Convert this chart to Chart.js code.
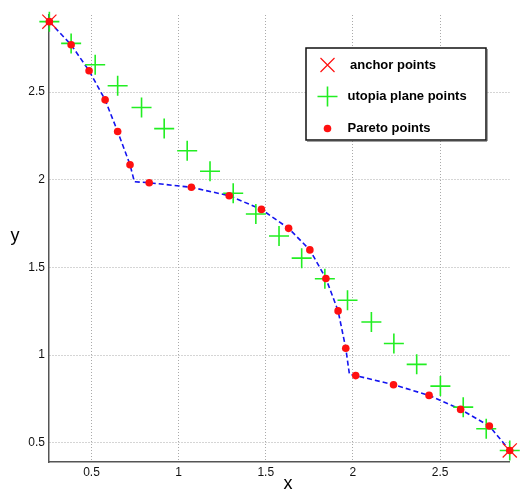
<!DOCTYPE html>
<html>
<head>
<meta charset="utf-8">
<script src="https://cdn.jsdelivr.net/npm/chart.js@4/dist/chart.umd.min.js"></script>
<style>
  html, body { margin: 0; padding: 0; background: #fff; }
  #wrap { width: 521px; height: 495px; }
</style>
</head>
<body>
<div id="wrap"><canvas id="chart" width="521" height="495"></canvas></div>
<script>
// pareto points (red dots)
const paretoX = [0.258, 0.383, 0.486, 0.578, 0.650, 0.721, 0.831, 1.073, 1.290, 1.475, 1.631, 1.753, 1.845, 1.915, 1.959, 2.016, 2.233, 2.437, 2.618, 2.783, 2.900]
const paretoY = [2.902, 2.770, 2.622, 2.456, 2.275, 2.086, 1.983, 1.957, 1.909, 1.831, 1.723, 1.600, 1.437, 1.252, 1.039, 0.883, 0.831, 0.770, 0.690, 0.595, 0.456]

// utopia plane points (green crosses)
const utopiaX = [0.258, 0.383, 0.521, 0.650, 0.787, 0.917, 1.049, 1.180, 1.313, 1.443, 1.576, 1.706, 1.839, 1.969, 2.106, 2.235, 2.366, 2.502, 2.633, 2.765, 2.900]
const utopiaY = [2.902, 2.778, 2.656, 2.536, 2.412, 2.292, 2.166, 2.049, 1.923, 1.805, 1.679, 1.553, 1.435, 1.313, 1.189, 1.066, 0.947, 0.823, 0.703, 0.580, 0.456]

// anchor points (red x)
const anchorX = [0.258, 2.900]
const anchorY = [2.902, 0.456]

// pareto front (blue dashed), with the two kinks
const frontX = [0.258, 0.383, 0.486, 0.578, 0.650, 0.721, 0.746, 0.831, 1.073, 1.290, 1.475, 1.631, 1.753, 1.845, 1.915, 1.959, 1.980, 2.016, 2.233, 2.437, 2.618, 2.783, 2.900]
const frontY = [2.902, 2.770, 2.622, 2.456, 2.275, 2.086, 1.989, 1.983, 1.957, 1.909, 1.831, 1.723, 1.600, 1.437, 1.252, 1.039, 0.890, 0.883, 0.831, 0.770, 0.690, 0.595, 0.456]

// ticks
const xTicks = [0.5, 1, 1.5, 2, 2.5]
const xTickLabels = ['0.5', '1', '1.5', '2', '2.5']
const yTicks = [0.5, 1, 1.5, 2, 2.5]
const yTickLabels = ['0.5', '1', '1.5', '2', '2.5']

const legendLabels = ['anchor points', 'utopia plane points', 'Pareto points']

const RED = '#ff1010'
const GREEN = '#22ee22'
const BLUE = '#1414f0'

const toPoints = (xs, ys) => xs.map((x, i) => ({ x, y: ys[i] }))

// legend box + axis titles, drawn like the matlab figure
const extras = {
  id: 'extras',
  afterDraw (chart) {
    const ctx = chart.ctx
    ctx.save()

    // axis titles
    ctx.fillStyle = '#000'
    ctx.font = '18px "Liberation Sans", Arial, sans-serif'
    ctx.textAlign = 'center'
    ctx.textBaseline = 'middle'
    ctx.fillText('x', 288, 484)
    ctx.fillText('y', 15, 236)

    // legend box
    const bx = 306
    const by = 48
    const bw = 180
    const bh = 92
    ctx.fillStyle = '#fff'
    ctx.fillRect(bx, by, bw, bh)
    ctx.strokeStyle = '#111'
    ctx.lineWidth = 1.5
    ctx.strokeRect(bx, by, bw, bh)
    ctx.lineWidth = 1
    ctx.strokeStyle = '#444'
    ctx.beginPath()
    ctx.moveTo(bx + 1, by + bh + 1)
    ctx.lineTo(bx + bw + 1, by + bh + 1)
    ctx.lineTo(bx + bw + 1, by + 1)
    ctx.stroke()

    const mx = 327.5
    const rows = [65, 96.5, 128.5]

    // anchor marker
    ctx.strokeStyle = RED
    ctx.lineWidth = 1.2
    ctx.beginPath()
    ctx.moveTo(mx - 7, rows[0] - 7)
    ctx.lineTo(mx + 7, rows[0] + 7)
    ctx.moveTo(mx - 7, rows[0] + 7)
    ctx.lineTo(mx + 7, rows[0] - 7)
    ctx.stroke()

    // utopia marker
    ctx.strokeStyle = GREEN
    ctx.lineWidth = 1.6
    ctx.beginPath()
    ctx.moveTo(mx - 10, rows[1])
    ctx.lineTo(mx + 10, rows[1])
    ctx.moveTo(mx, rows[1] - 10)
    ctx.lineTo(mx, rows[1] + 10)
    ctx.stroke()

    // pareto marker
    ctx.fillStyle = RED
    ctx.beginPath()
    ctx.arc(mx, rows[2], 3.8, 0, Math.PI * 2)
    ctx.fill()

    ctx.fillStyle = '#000'
    ctx.font = 'bold 13px "Liberation Sans", Arial, sans-serif'
    ctx.textAlign = 'left'
    ctx.fillText(legendLabels[0], 350, rows[0])
    ctx.fillText(legendLabels[1], 347.5, rows[1])
    ctx.fillText(legendLabels[2], 347.5, rows[2])

    ctx.restore()
  }
}

const gridOpts = { color: '#aaaaaa', lineWidth: 1, drawTicks: false, borderDash: [1, 2] }
const borderOpts = { display: true, color: '#555555', width: 1.5, dash: [1, 2] }

new Chart(document.getElementById('chart'), {
  type: 'scatter',
  data: {
    datasets: [
      {
        label: legendLabels[0],
        data: toPoints(anchorX, anchorY),
        pointStyle: 'crossRot',
        pointRadius: 10,
        pointBorderWidth: 1.2,
        borderColor: RED,
        backgroundColor: RED,
        clip: false
      },
      {
        label: legendLabels[2],
        data: toPoints(paretoX, paretoY),
        pointStyle: 'circle',
        pointRadius: 3.8,
        pointBorderWidth: 0,
        borderColor: RED,
        backgroundColor: RED,
        clip: false
      },
      {
        label: legendLabels[1],
        data: toPoints(utopiaX, utopiaY),
        pointStyle: 'cross',
        pointRadius: 10,
        pointBorderWidth: 1.6,
        borderColor: GREEN,
        backgroundColor: GREEN,
        clip: false
      },
      {
        label: 'front',
        data: toPoints(frontX, frontY),
        showLine: true,
        pointRadius: 0,
        borderColor: BLUE,
        borderWidth: 1.6,
        borderDash: [5, 3],
        tension: 0,
        clip: false
      }
    ]
  },
  options: {
    responsive: false,
    animation: false,
    layout: { padding: { left: 0, top: 15, right: 10, bottom: 0 } },
    plugins: {
      legend: { display: false },
      tooltip: { enabled: false }
    },
    scales: {
      x: {
        type: 'linear',
        min: 0.256,
        max: 2.898,
        grid: gridOpts,
        border: borderOpts,
        afterBuildTicks: (scale) => { scale.ticks = xTicks.map(v => ({ value: v })) },
        afterFit: (scale) => {
          scale.height = 33
          scale.paddingLeft = 0
          scale.paddingRight = 0
        },
        ticks: {
          padding: 3,
          color: '#111',
          font: { family: '"Liberation Sans", Arial, sans-serif', size: 12 },
          maxRotation: 0,
          callback: (v) => xTickLabels[xTicks.indexOf(v)]
        }
      },
      y: {
        type: 'linear',
        min: 0.39,
        max: 2.94,
        grid: gridOpts,
        border: borderOpts,
        afterBuildTicks: (scale) => { scale.ticks = yTicks.map(v => ({ value: v })) },
        afterFit: (scale) => {
          scale.width = 49
          scale.paddingTop = 0
          scale.paddingBottom = 0
        },
        ticks: {
          padding: 4,
          color: '#111',
          font: { family: '"Liberation Sans", Arial, sans-serif', size: 12 },
          callback: (v) => yTickLabels[yTicks.indexOf(v)]
        }
      }
    }
  },
  plugins: [extras]
})
</script>
</body>
</html>
